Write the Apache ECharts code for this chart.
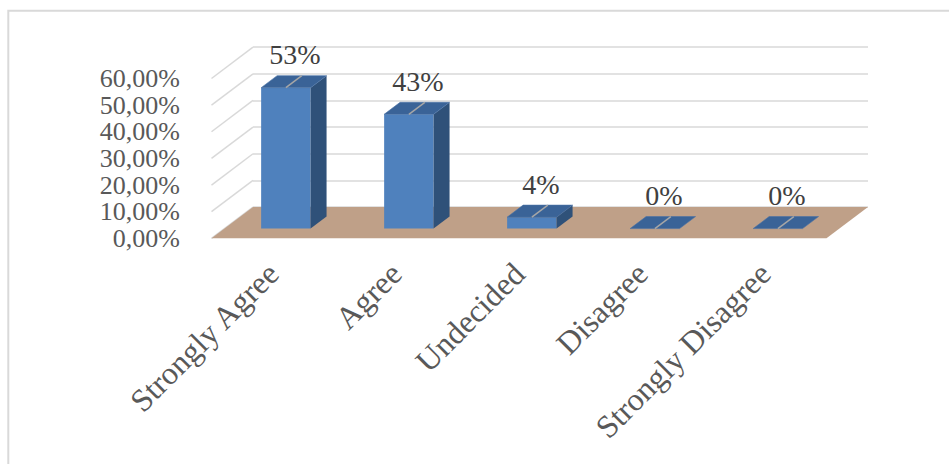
<!DOCTYPE html>
<html><head><meta charset="utf-8">
<script src="https://cdn.jsdelivr.net/npm/echarts@6.0.0/dist/echarts.min.js"></script>
<style>html,body{margin:0;padding:0;background:#fff}#c{width:949px;height:464px}</style>
</head><body><div id="c"></div>
<script>
const categories = ['Strongly Agree', 'Agree', 'Undecided', 'Disagree', 'Strongly Disagree'];
const shares = [0.529, 0.429, 0.043, 0, 0];
const yTicks = [0, 0.1, 0.2, 0.3, 0.4, 0.5, 0.6];

const FONT = "'Liberation Serif','Times New Roman',serif";
const DEPTH = [41.5, -31.3];
const BAR_FRONT = 0.31, BAR_BACK = 0.695, BAR_W = 0.402;

function pctAxis(v) { return (v * 100).toFixed(2).replace('.', ',') + '%'; }

const chart = echarts.init(document.getElementById('c'), null, { renderer: 'svg' });

const option = {
  backgroundColor: '#fff',
  animation: false,
  graphic: [{
    type: 'rect', silent: true, z: -10,
    shape: { x: 8.3, y: 10.8, width: 1000, height: 1000 },
    style: { fill: 'none', stroke: '#d9d9d9', lineWidth: 2 }
  }],
  grid: [
    { left: 211.5, top: 78.5, width: 615, height: 159.8 },
    { left: 253, top: 47, width: 615, height: 160 }
  ],
  xAxis: [
    { type: 'category', gridIndex: 0, data: categories,
      axisLine: { show: false }, axisTick: { show: false },
      axisLabel: { rotate: 45, margin: 30, interval: 0, fontSize: 32, fontFamily: FONT, color: '#595959' } },
    { type: 'category', gridIndex: 1, data: categories, show: false }
  ],
  yAxis: [
    { type: 'value', gridIndex: 0, min: 0, max: 0.6, interval: 0.1,
      axisLine: { show: false }, axisTick: { show: false }, splitLine: { show: false },
      axisLabel: { formatter: pctAxis, margin: 31.5, fontSize: 26, fontFamily: FONT, color: '#595959',
                   showMinLabel: true, showMaxLabel: true, hideOverlap: false } },
    { type: 'value', gridIndex: 1, min: 0, max: 0.6, interval: 0.1,
      axisLine: { show: false }, axisTick: { show: false }, axisLabel: { show: false },
      splitLine: { show: true, lineStyle: { color: '#d9d9d9', width: 1.5 } } }
  ],
  series: [
    {
      type: 'custom', name: 'sidewall', xAxisIndex: 0, yAxisIndex: 0, z: 1, silent: true,
      data: yTicks.map(v => [0, v]),
      renderItem: function (params, api) {
        const cs = params.coordSys;
        const y = api.coord([0, api.value(1)])[1];
        return { type: 'line', shape: { x1: cs.x, y1: y, x2: cs.x + DEPTH[0], y2: y + DEPTH[1] },
                 style: { stroke: '#d9d9d9', lineWidth: 1.5 } };
      }
    },
    {
      type: 'custom', name: 'floor', xAxisIndex: 0, yAxisIndex: 0, z: 2, silent: true,
      data: [[0, 0]],
      renderItem: function (params, api) {
        const cs = params.coordSys;
        const y0 = api.coord([0, 0])[1];
        const x0 = cs.x, x1 = cs.x + cs.width;
        return { type: 'polygon', shape: { points: [[x0, y0], [x1, y0], [x1 + DEPTH[0], y0 + DEPTH[1]], [x0 + DEPTH[0], y0 + DEPTH[1]]] },
                 style: { fill: '#bfa088' } };
      }
    },
    {
      type: 'custom', name: 'share', xAxisIndex: 0, yAxisIndex: 0, z: 3,
      data: shares.map((v, i) => [i, v]),
      renderItem: function (params, api) {
        const i = api.value(0), v = api.value(1);
        const base = api.coord([i, 0]), top = api.coord([i, v]);
        const band = api.size([1, 0])[0];
        const w = band * BAR_W;
        const fx = BAR_FRONT * DEPTH[0], fy = BAR_FRONT * DEPTH[1];
        const dx = (BAR_BACK - BAR_FRONT) * DEPTH[0], dy = (BAR_BACK - BAR_FRONT) * DEPTH[1];
        const xl = base[0] - w / 2 + fx, xr = base[0] + w / 2 + fx;
        const yb = base[1] + fy, yt = top[1] + fy;
        const children = [];
        if (yb - yt > 0.5) {
          children.push({ type: 'rect', shape: { x: xl, y: yt, width: w, height: yb - yt }, style: { fill: '#4f81bd' } });
          children.push({ type: 'polygon', shape: { points: [[xr, yt], [xr + dx, yt + dy], [xr + dx, yb + dy], [xr, yb]] }, style: { fill: '#2f5179' } });
        }
        children.push({ type: 'polygon', shape: { points: [[xl, yt], [xr, yt], [xr + dx, yt + dy], [xl + dx, yt + dy]] },
                        style: { fill: '#3a6397', stroke: '#4a72a6', lineWidth: 0.6 } });
        const cx = (xl + xr) / 2;
        children.push({ type: 'line', shape: { x1: cx, y1: yt, x2: cx + dx, y2: yt + dy }, style: { stroke: '#a6a6a6', lineWidth: 1.5 } });
        children.push({ type: 'text', x: cx + dx / 2 + 1, y: yt + dy / 2 - 27,
                        style: { text: Math.round(v * 100) + '%', fontSize: 28, fontFamily: FONT, fill: '#404040', align: 'center', verticalAlign: 'middle' } });
        return { type: 'group', children: children };
      }
    }
  ]
};
chart.setOption(option);
</script>
</body></html>
